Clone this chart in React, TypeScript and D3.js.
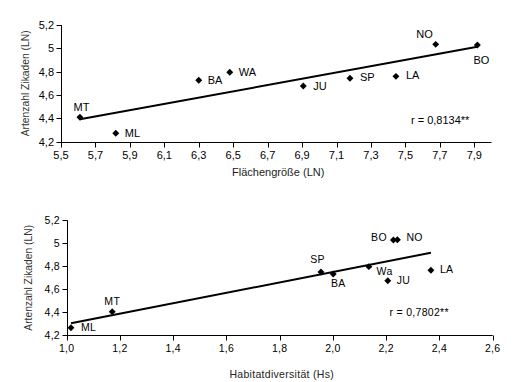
import React from "react";
import * as d3 from "d3";

// ---- Data ----
const sitesTop = ["MT", "ML", "BA", "WA", "JU", "SP", "LA", "NO", "BO"];
const areaTop = [5.61, 5.818, 6.3, 6.48, 6.907, 7.178, 7.445, 7.676, 7.918];
const speciesTop = [4.41, 4.272, 4.726, 4.795, 4.677, 4.743, 4.76, 5.034, 5.029];
const rTop = "r = 0,8134**";

const sitesBottom = ["ML", "MT", "SP", "BA", "Wa", "JU", "BO", "NO", "LA"];
const habitatBottom = [1.016, 1.171, 1.955, 2.001, 2.135, 2.206, 2.227, 2.242, 2.368];
const speciesBottom = [4.266, 4.405, 4.75, 4.733, 4.797, 4.675, 5.029, 5.031, 4.765];
const rBottom = "r = 0,7802**";

const yTicks = [4.2, 4.4, 4.6, 4.8, 5.0, 5.2];
const xTicksTop = [5.5, 5.7, 5.9, 6.1, 6.3, 6.5, 6.7, 6.9, 7.1, 7.3, 7.5, 7.7, 7.9];
const xTicksBottom = [1.0, 1.2, 1.4, 1.6, 1.8, 2.0, 2.2, 2.4, 2.6];

// ---- Label placement (style) ----
type Off = { dx: number; dy: number; anchor: "start" | "middle" | "end" };
const labelOffTop: Record<string, Off> = {
  MT: { dx: 1.5, dy: -6, anchor: "middle" },
  ML: { dx: 9, dy: 3.5, anchor: "start" },
  BA: { dx: 9, dy: 4, anchor: "start" },
  WA: { dx: 9, dy: 4, anchor: "start" },
  JU: { dx: 10, dy: 3.5, anchor: "start" },
  SP: { dx: 10, dy: 3, anchor: "start" },
  LA: { dx: 10, dy: 3, anchor: "start" },
  NO: { dx: -3, dy: -6, anchor: "end" },
  BO: { dx: -4, dy: 19, anchor: "start" },
};
const labelOffBottom: Record<string, Off> = {
  ML: { dx: 10, dy: 3, anchor: "start" },
  MT: { dx: 0, dy: -7, anchor: "middle" },
  SP: { dx: -3.5, dy: -9, anchor: "middle" },
  BA: { dx: 5, dy: 12.7, anchor: "middle" },
  Wa: { dx: 7.7, dy: 8, anchor: "start" },
  JU: { dx: 9, dy: 3, anchor: "start" },
  BO: { dx: -6.5, dy: 1, anchor: "end" },
  NO: { dx: 9, dy: 1, anchor: "start" },
  LA: { dx: 9, dy: 3, anchor: "start" },
};

const fmt = (v: number, dec: number) => {
  if (dec === 0) return String(+v.toFixed(1)).replace(".", ",");
  return v.toFixed(dec).replace(".", ",");
};

function regression(xs: number[], ys: number[]) {
  const mx = d3.mean(xs)!;
  const my = d3.mean(ys)!;
  let sxy = 0,
    sxx = 0;
  xs.forEach((x, i) => {
    sxy += (x - mx) * (ys[i] - my);
    sxx += (x - mx) * (x - mx);
  });
  const b = sxy / sxx;
  return (x: number) => my + b * (x - mx);
}

const FONT = "'Liberation Sans', Arial, sans-serif";
const diamond = d3.symbol().type(d3.symbolSquare).size(24)();

type PanelProps = {
  sites: string[];
  xs: number[];
  ys: number[];
  xDomain: [number, number];
  xRange: [number, number];
  yRange: [number, number];
  xTicks: number[];
  xTickDec: number;
  xTitle: string;
  xTitleY: number;
  yTitleX: number;
  rText: string;
  rX: number;
  rY: number;
  offs: Record<string, Off>;
  fontSize: number;
  tickLabelY: number;
  letterSpacing: number;
};

function Panel(p: PanelProps) {
  const x = d3.scaleLinear().domain(p.xDomain).range(p.xRange);
  const y = d3.scaleLinear().domain([4.2, 5.2]).range(p.yRange);
  const x0 = Math.round(p.xRange[0]) + 0.5;
  const yb = Math.round(p.yRange[0]) + 0.5;
  const fit = regression(p.xs, p.ys);
  const xmin = d3.min(p.xs)!;
  const xmax = d3.max(p.xs)!;
  const line = d3
    .line<number>()
    .x((d) => x(d))
    .y((d) => y(fit(d)));
  return (
    <g fontFamily={FONT} fill="#000">
      {/* axes */}
      <line x1={x0} x2={x0} y1={y(5.2)} y2={yb} stroke="#000" />
      <line x1={x0} x2={x(p.xDomain[1])} y1={yb} y2={yb} stroke="#000" />
      {yTicks.map((t) => (
        <g key={"y" + t}>
          <line x1={x0 - 5} x2={x0} y1={Math.round(y(t)) + 0.5} y2={Math.round(y(t)) + 0.5} stroke="#000" />
          <text
            x={x0 - 7.5}
            y={y(t)}
            dy="0.36em"
            textAnchor="end"
            fontSize={p.fontSize}
            letterSpacing={p.letterSpacing}
          >
            {fmt(t, 0)}
          </text>
        </g>
      ))}
      {p.xTicks.map((t) => (
        <g key={"x" + t}>
          <line
            x1={Math.round(x(t)) + 0.5}
            x2={Math.round(x(t)) + 0.5}
            y1={yb}
            y2={yb + 5}
            stroke="#000"
          />
          <text
            x={x(t)}
            y={p.tickLabelY}
            textAnchor="middle"
            fontSize={p.fontSize}
            letterSpacing={p.letterSpacing}
          >
            {fmt(t, p.xTickDec)}
          </text>
        </g>
      ))}
      {/* titles */}
      <text x={(p.xRange[0] + p.xRange[1]) / 2 + 2} y={p.xTitleY} textAnchor="middle" fontSize={p.fontSize} fill="#222" letterSpacing={p.letterSpacing}>
        {p.xTitle}
      </text>
      <text
        transform={`translate(${p.yTitleX},${(p.yRange[0] + p.yRange[1]) / 2}) rotate(-90)`}
        textAnchor="middle"
        fontSize={10.3}
        fill="#333"
      >
        Artenzahl Zikaden (LN)
      </text>
      {/* trend line */}
      <path d={line([xmin, xmax]) || ""} stroke="#000" strokeWidth={2} fill="none" />
      {/* points */}
      {p.sites.map((s, i) => (
        <path key={s} d={diamond!} transform={`translate(${x(p.xs[i])},${y(p.ys[i])}) rotate(45)`} fill="#000" />
      ))}
      {p.sites.map((s, i) => {
        const o = p.offs[s];
        return (
          <text
            key={"l" + s}
            x={x(p.xs[i]) + o.dx}
            y={y(p.ys[i]) + o.dy}
            textAnchor={o.anchor}
            fontSize={p.fontSize}
            letterSpacing={p.letterSpacing}
          >
            {s}
          </text>
        );
      })}
      <text x={p.rX} y={p.rY} fontSize={p.fontSize} letterSpacing={p.letterSpacing}>
        {p.rText}
      </text>
    </g>
  );
}

export default function App() {
  return (
    <svg
      width={525}
      height={382}
      style={{ position: "absolute", left: 0, top: 0, background: "#fff" }}
    >
      <rect width={525} height={382} fill="#fff" />
      <Panel
        sites={sitesTop}
        xs={areaTop}
        ys={speciesTop}
        xDomain={[5.5, 8.0]}
        xRange={[61, 491.5]}
        yRange={[141.7, 25]}
        xTicks={xTicksTop}
        xTickDec={1}
        xTitle="Flächengröße (LN)"
        xTitleY={176}
        yTitleX={29}
        rText={rTop}
        rX={411}
        rY={123.5}
        offs={labelOffTop}
        fontSize={11}
        tickLabelY={159}
        letterSpacing={0}
      />
      <Panel
        sites={sitesBottom}
        xs={habitatBottom}
        ys={speciesBottom}
        xDomain={[1.0, 2.6]}
        xRange={[66.7, 492.7]}
        yRange={[335.3, 220.3]}
        xTicks={xTicksBottom}
        xTickDec={1}
        xTitle="Habitatdiversität (Hs)"
        xTitleY={377.5}
        yTitleX={32}
        rText={rBottom}
        rX={389.5}
        rY={316}
        offs={labelOffBottom}
        fontSize={10.5}
        tickLabelY={352}
        letterSpacing={0.3}
      />
    </svg>
  );
}
